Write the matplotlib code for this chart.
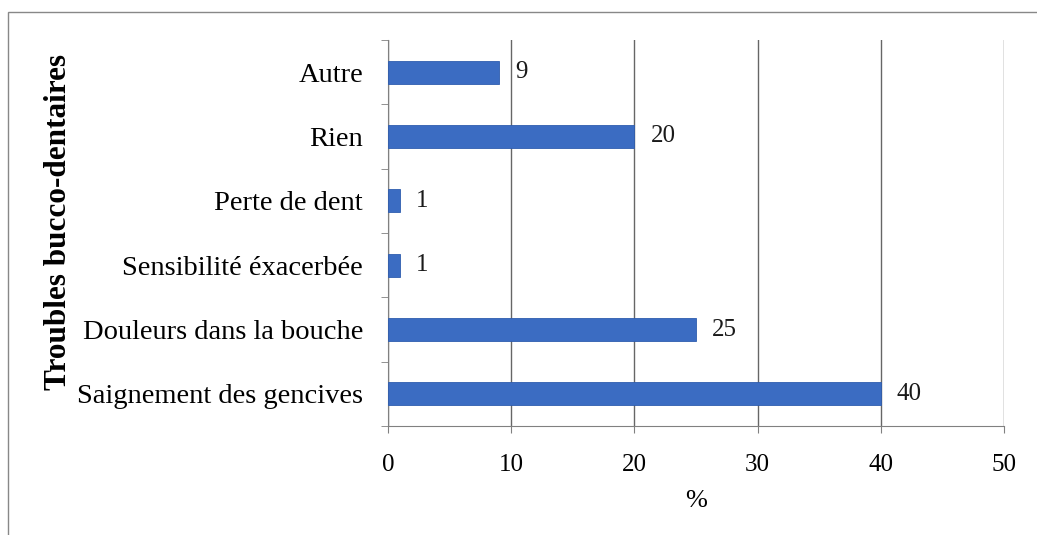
import matplotlib
matplotlib.use("Agg")
import matplotlib.pyplot as plt
import numpy as np
from matplotlib.patches import Rectangle

categories = ["Saignement des gencives", "Douleurs dans la bouche", "Sensibilité éxacerbée",
              "Perte de dent", "Rien", "Autre"]
values = [40, 25, 1, 1, 20, 9]
xticks = [0, 10, 20, 30, 40, 50]

plt.rcParams['font.family'] = ['Liberation Serif', 'DejaVu Serif']

W, H = 1037, 535
fig = plt.figure(figsize=(W/100, H/100), dpi=100)
ax = fig.add_axes([388/W, 1-426/H, (1004-388)/W, (426-40)/H])

y = np.arange(len(categories))
ax.barh(y, values, height=0.36, color='#3B6CC2', edgecolor='#2F5DAE', linewidth=0.6, zorder=3)
for yi, v in zip(y, values):
    ax.text(v + 1.3, yi, str(v), va='center', ha='left', fontsize=18, color='#1a1a1a', zorder=4)

ax.set_xlim(0, 50)
ax.set_ylim(-0.5, len(categories) - 0.5)
ax.set_xticks(xticks)
ax.set_xticklabels([str(t) for t in xticks], fontsize=18)
ax.set_yticks(y)
ax.set_yticklabels(categories, fontsize=20.5)
ax.set_yticks(np.arange(-0.5, len(categories)), minor=True)
ax.tick_params(axis='y', which='major', length=0, pad=18)
ax.tick_params(axis='y', which='minor', length=5, color='#808080')
ax.tick_params(axis='x', length=5, color='#808080', pad=15)
ax.grid(axis='x', color='#666666', linewidth=1.0, zorder=0)
for s in ['top', 'right']:
    ax.spines[s].set_visible(False)
for s in ['left', 'bottom']:
    ax.spines[s].set_color('#808080')

ax.set_xlabel('%', fontsize=19, labelpad=10)
fig.text(59/W, 1-222/H, 'Troubles bucco-dentaires', rotation=90, fontsize=22.5,
         fontweight='bold', ha='center', va='center')

fig.patches.append(Rectangle((8/W, -0.01), 1.05, 1-12/H+0.01, transform=fig.transFigure,
                             fill=False, edgecolor='#888888', linewidth=1.0))

fig.savefig('out.png', dpi=100, facecolor='white')
